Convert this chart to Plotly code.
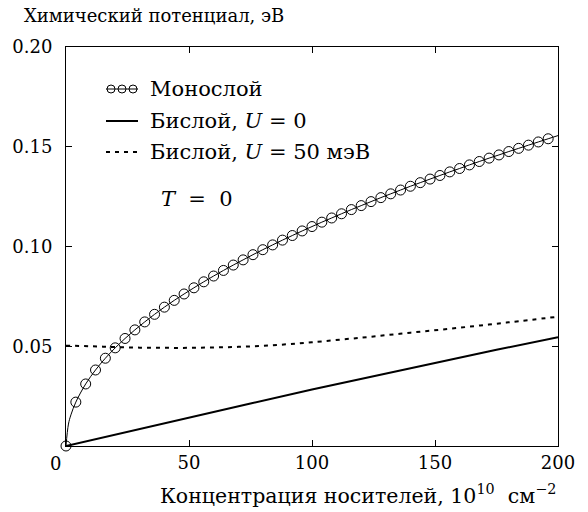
import plotly.graph_objects as go

# ---- data ----
mono_x = [0, 1, 2, 4, 8, 12, 16, 20, 24, 28, 32, 36, 40, 44, 48, 52, 56, 60, 64, 68, 72,
          76, 80, 84, 88, 92, 96, 100, 104, 108, 112, 116, 120, 124, 128, 132, 136,
          140, 144, 148, 152, 156, 160, 164, 168, 172, 176, 180, 184, 188, 192, 196, 200]
mono_y = [0.0, 0.0110, 0.0156, 0.0220, 0.0311, 0.0381, 0.0440, 0.0492, 0.0539, 0.0582,
          0.0622, 0.0660, 0.0696, 0.0730, 0.0762, 0.0793, 0.0823, 0.0852, 0.0880, 0.0907,
          0.0933, 0.0959, 0.0984, 0.1008, 0.1032, 0.1055, 0.1078, 0.1100, 0.1122, 0.1143,
          0.1164, 0.1185, 0.1205, 0.1225, 0.1245, 0.1264, 0.1283, 0.1302, 0.1320, 0.1338,
          0.1356, 0.1374, 0.1391, 0.1409, 0.1426, 0.1443, 0.1459, 0.1476, 0.1492, 0.1508,
          0.1524, 0.1540, 0.1556]
# marker positions: every 4 units from 0 to 196
mono_mark_x = [0, 4, 8, 12, 16, 20, 24, 28, 32, 36, 40, 44, 48, 52, 56, 60, 64, 68, 72,
               76, 80, 84, 88, 92, 96, 100, 104, 108, 112, 116, 120, 124, 128, 132, 136,
               140, 144, 148, 152, 156, 160, 164, 168, 172, 176, 180, 184, 188, 192, 196]
mono_mark_y = [0.0, 0.0220, 0.0311, 0.0381, 0.0440, 0.0492, 0.0539, 0.0582,
               0.0622, 0.0660, 0.0696, 0.0730, 0.0762, 0.0793, 0.0823, 0.0852, 0.0880, 0.0907,
               0.0933, 0.0959, 0.0984, 0.1008, 0.1032, 0.1055, 0.1078, 0.1100, 0.1122, 0.1143,
               0.1164, 0.1185, 0.1205, 0.1225, 0.1245, 0.1264, 0.1283, 0.1302, 0.1320, 0.1338,
               0.1356, 0.1374, 0.1391, 0.1409, 0.1426, 0.1443, 0.1459, 0.1476, 0.1492, 0.1508,
               0.1524, 0.1540]

bi0_x = [0, 25, 50, 75, 100, 125, 150, 175, 200]
bi0_y = [0.0, 0.0072, 0.0143, 0.0213, 0.0283, 0.0350, 0.0417, 0.0482, 0.0545]

bi50_x = [0, 10, 20, 30, 40, 50, 60, 70, 80, 90, 100, 120, 140, 160, 180, 200]
bi50_y = [0.0503, 0.0500, 0.0496, 0.0493, 0.0492, 0.0492, 0.0494, 0.0497, 0.0502,
          0.0510, 0.0520, 0.0543, 0.0568, 0.0593, 0.0620, 0.0648]

x_ticks = [50, 100, 150, 200]
x_ticklabels = ["50", "100", "150", "200"]
y_ticks = [0.05, 0.10, 0.15, 0.20]
y_ticklabels = ["0.05", "0.10", "0.15", "0.20"]

legend_labels = ["Монослой", "Бислой, <i>U</i> = 0", "Бислой, <i>U</i> = 50 мэВ"]
y_title = "Химический потенциал, эВ"
x_title = "Концентрация носителей, 10<sup>10</sup>  см<sup>−2</sup>"
note = "<i>T</i>  =  0"

FONT = "DejaVu Serif"
FS = 18
FS_BIG = 21

W, H = 588, 512
L, R, T, B = 66, 30, 47, 66
PW, PH = W - L - R, H - T - B


def px(xp):
    return (xp - L) / PW


def py(yp):
    return (H - B - yp) / PH


fig = go.Figure()
fig.add_trace(go.Scatter(x=bi0_x, y=bi0_y, mode="lines",
                         line=dict(color="black", width=2), showlegend=False))
fig.add_trace(go.Scatter(x=bi50_x, y=bi50_y, mode="lines", line_shape="spline",
                         line=dict(color="black", width=2, dash="4px,5px"), showlegend=False))
fig.add_trace(go.Scatter(x=mono_x, y=mono_y, mode="lines", line_shape="spline",
                         line=dict(color="black", width=1), showlegend=False))
fig.add_trace(go.Scatter(x=mono_mark_x, y=mono_mark_y, mode="markers", cliponaxis=False,
                         marker=dict(symbol="circle-open", size=10, color="black",
                                     line=dict(width=1, color="black")),
                         showlegend=False))

shapes = []
annotations = []
# legend rows
rows_y = [89, 121, 152]
sx0, sx1, tx = 106, 138, 148
# row 1: three small circles with line through
shapes.append(dict(type="line", xref="paper", yref="paper", x0=px(sx0), x1=px(sx1),
                   y0=py(rows_y[0]), y1=py(rows_y[0]), line=dict(color="black", width=1)))
for cx in [111, 122, 133]:
    r = 4
    shapes.append(dict(type="circle", xref="paper", yref="paper",
                       x0=px(cx - r), x1=px(cx + r), y0=py(rows_y[0] + r), y1=py(rows_y[0] - r),
                       line=dict(color="black", width=1)))
shapes.append(dict(type="line", xref="paper", yref="paper", x0=px(sx0), x1=px(sx1),
                   y0=py(rows_y[1]), y1=py(rows_y[1]), line=dict(color="black", width=2)))
shapes.append(dict(type="line", xref="paper", yref="paper", x0=px(sx0), x1=px(sx1),
                   y0=py(rows_y[2]), y1=py(rows_y[2]),
                   line=dict(color="black", width=2, dash="4px,5px")))
for lab, yy in zip(legend_labels, rows_y):
    annotations.append(dict(text=lab, xref="paper", yref="paper", x=px(tx), y=py(yy),
                            xanchor="left", yanchor="middle", showarrow=False,
                            font=dict(family=FONT, size=FS_BIG, color="black")))

annotations.append(dict(text=note, xref="paper", yref="paper", x=px(159), y=py(199),
                        xanchor="left", yanchor="middle", showarrow=False,
                        font=dict(family=FONT, size=FS_BIG, color="black")))
annotations.append(dict(text=y_title, xref="paper", yref="paper", x=px(22), y=py(15),
                        xanchor="left", yanchor="middle", showarrow=False,
                        font=dict(family=FONT, size=FS, color="black")))
annotations.append(dict(text=x_title, xref="paper", yref="paper", x=px(358), y=py(494),
                        xanchor="center", yanchor="middle", showarrow=False,
                        font=dict(family=FONT, size=20.5, color="black")))
annotations.append(dict(text="0", xref="paper", yref="paper", x=px(55), y=py(463),
                        xanchor="center", yanchor="middle", showarrow=False,
                        font=dict(family=FONT, size=FS, color="black")))

fig.update_layout(
    width=W, height=H, margin=dict(l=L, r=R, t=T, b=B),
    paper_bgcolor="white", plot_bgcolor="white",
    font=dict(family=FONT, size=FS, color="black"),
    shapes=shapes, annotations=annotations, showlegend=False,
)
fig.update_xaxes(range=[0, 200], tickvals=x_ticks, ticktext=x_ticklabels,
                 showline=True, linecolor="black", linewidth=1, mirror="ticks",
                 ticks="inside", ticklen=6, tickcolor="black", showgrid=False,
                 zeroline=False, tickfont=dict(family=FONT, size=FS, color="black"))
fig.update_yaxes(range=[0, 0.2], tickvals=y_ticks, ticktext=y_ticklabels,
                 showline=True, linecolor="black", linewidth=1, mirror="ticks",
                 ticks="inside", ticklen=6, tickcolor="black", showgrid=False,
                 ticklabelstandoff=9,
                 zeroline=False, tickfont=dict(family=FONT, size=FS, color="black"))

fig.write_html("out.html")
